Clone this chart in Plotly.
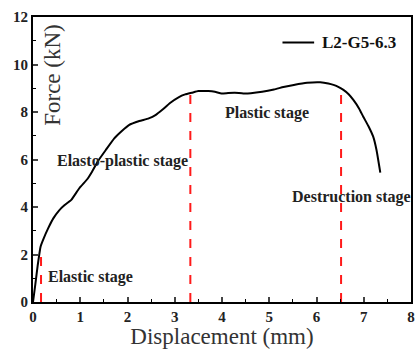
import plotly.graph_objects as go

disp = [0, 0.05, 0.10, 0.16, 0.22, 0.32, 0.43, 0.55, 0.67, 0.81, 0.98, 1.16, 1.23, 1.38, 1.54, 1.72, 1.88, 2.03, 2.25, 2.45, 2.60, 2.73, 2.90, 3.08, 3.22, 3.36, 3.50, 3.71, 3.85, 3.99, 4.13, 4.27, 4.45, 4.61, 4.85, 5.10, 5.30, 5.52, 5.80, 6.08, 6.25, 6.36, 6.47, 6.57, 6.68, 6.78, 6.90, 6.99, 7.10, 7.20, 7.27, 7.35]
force = [0, 0.75, 1.55, 2.33, 2.65, 3.10, 3.52, 3.85, 4.08, 4.30, 4.79, 5.20, 5.42, 5.95, 6.40, 6.89, 7.20, 7.45, 7.62, 7.73, 7.88, 8.08, 8.38, 8.62, 8.74, 8.81, 8.88, 8.88, 8.85, 8.78, 8.80, 8.81, 8.78, 8.79, 8.85, 8.95, 9.05, 9.14, 9.23, 9.25, 9.20, 9.14, 9.05, 8.93, 8.75, 8.51, 8.15, 7.80, 7.40, 6.96, 6.40, 5.45]

stage_x = [0.17, 3.33, 6.52]
stage_top = [2.25, 8.75, 8.95]

labels = ["Elastic stage", "Elasto-plastic stage", "Plastic stage", "Destruction stage"]
label_x = [1.21, 1.90, 4.96, 6.74]
label_y = [1.07, 5.95, 7.95, 4.43]

serif = "Liberation Serif, Times New Roman, serif"

fig = go.Figure()
fig.add_trace(go.Scatter(x=disp, y=force, mode="lines", line=dict(color="black", width=2, shape="spline", smoothing=0.4),
                         name="L2-G5-6.3", showlegend=False))
for sx, st in zip(stage_x, stage_top):
    fig.add_trace(go.Scatter(x=[sx, sx], y=[0, st], mode="lines",
                             line=dict(color="#ff1a1a", width=2, dash="dash"), showlegend=False))

for t, lx, ly in zip(labels, label_x, label_y):
    fig.add_annotation(x=lx, y=ly, text="<b>" + t + "</b>", showarrow=False, xanchor="center",
                       yanchor="middle", font=dict(family=serif, size=16, color="#222"))

# legend
fig.add_trace(go.Scatter(x=[5.28, 5.95], y=[10.93, 10.93], mode="lines", line=dict(color="black", width=2),
                         showlegend=False))
fig.add_annotation(x=6.07, y=10.93, text="<b>L2-G5-6.3</b>", showarrow=False, xanchor="left",
                   yanchor="middle", font=dict(family=serif, size=17, color="#111"))

# y title inside plot
fig.add_annotation(x=0.42, y=9.56, text="Force (kN)", textangle=-90, showarrow=False,
                   xanchor="center", yanchor="middle", font=dict(family=serif, size=23, color="#333"))

fig.update_layout(
    width=419, height=349,
    margin=dict(l=33, r=4, t=17, b=47),
    plot_bgcolor="white", paper_bgcolor="white",
    font=dict(family=serif, color="#222"),
    xaxis=dict(range=[0, 8], dtick=1, ticks="inside", ticklen=5, tickwidth=1.5,
               minor=dict(dtick=0.5, ticks="inside", ticklen=3, tickwidth=1.2, tickcolor="black"),
               showline=True, linecolor="black", linewidth=2, mirror=True, showgrid=False, zeroline=False,
               tickfont=dict(family=serif, size=15, color="#222"), tickprefix="<b>", ticksuffix="</b>",
               title=dict(text="Displacement (mm)", font=dict(family=serif, size=23, color="#333"), standoff=0)),
    yaxis=dict(range=[0, 12], dtick=2, ticks="inside", ticklen=5, tickwidth=1.5,
               minor=dict(dtick=1, ticks="inside", ticklen=3, tickwidth=1.2, tickcolor="black"),
               showline=True, linecolor="black", linewidth=2, mirror=True, showgrid=False, zeroline=False,
               tickfont=dict(family=serif, size=15, color="#222"), tickprefix="<b>", ticksuffix="</b>"),
)

fig.write_html("out.html")
